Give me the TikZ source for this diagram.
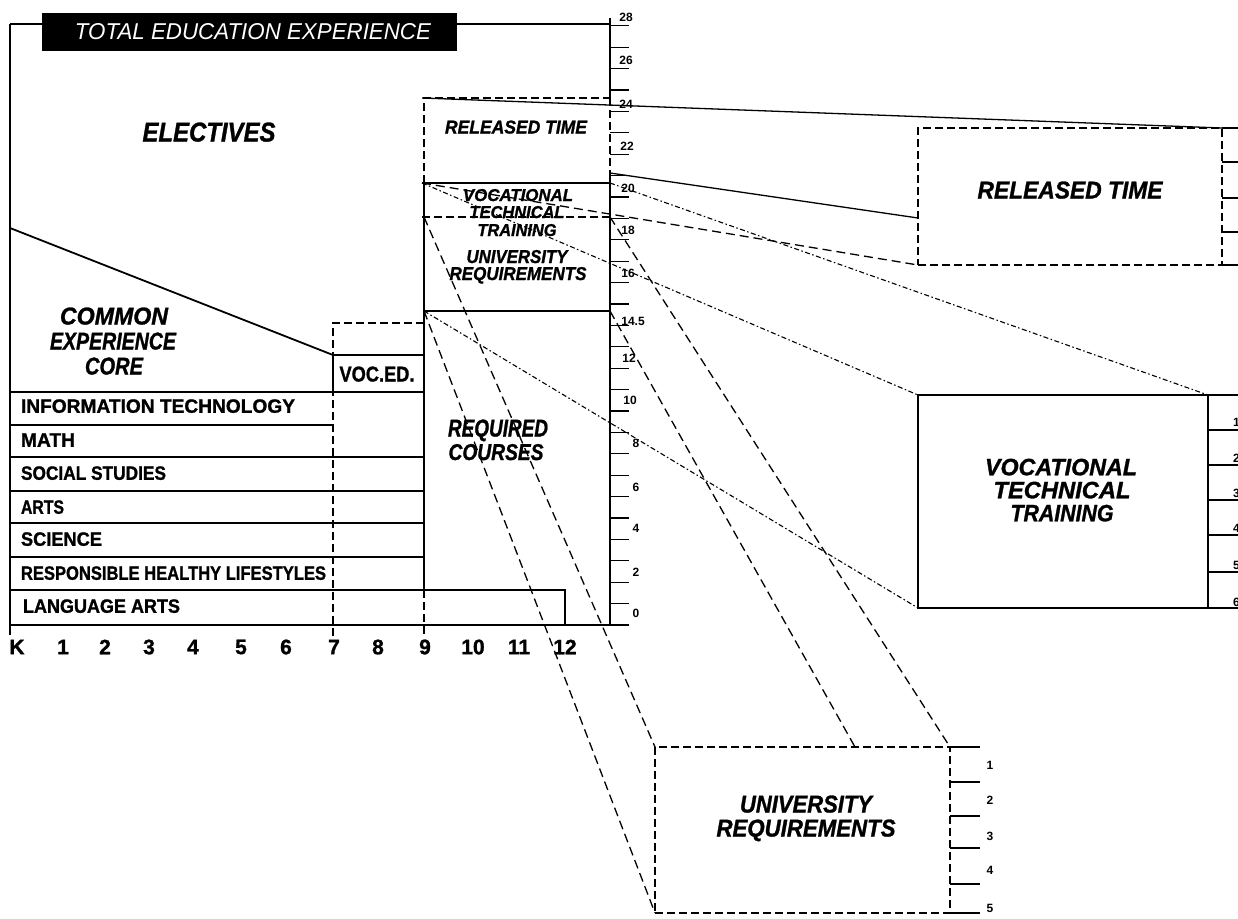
\documentclass[tikz,border=0pt]{standalone}
\usepackage{fontspec}
\setmainfont{Liberation Sans}
\newfontfamily\heavy[FakeBold=1.2]{Liberation Sans}
\usepackage{graphicx}
\newcommand\Tx[7]{\node[lbl] (#1) at (#2,{#3+#5/2}) {\resizebox{#4pt}{#5pt}{#6#7}};}
\begin{document}
\begin{tikzpicture}[x=1pt,y=-1pt,
  lbl/.style={anchor=base,inner sep=0pt,outer sep=0pt},
  frame/.style={line width=1.8pt},
  thinframe/.style={line width=1.3pt},
  axis/.style={line width=2.6pt},
  tick/.style={line width=1.3pt},
  boxdash/.style={line width=1.8pt,dash pattern=on 8pt off 4pt},
  projL/.style={line width=1.3pt,dash pattern=on 9pt off 5pt},
  projF/.style={line width=1.1pt,dash pattern=on 5pt off 2.5pt on 1.5pt off 2.5pt},
  projS/.style={line width=1.3pt},
  axl/.style={inner sep=0pt,font=\fontsize{12}{12}\selectfont\bfseries},
  grade/.style={inner sep=0pt,font=\fontsize{21}{21}\selectfont\heavy\bfseries},
  xbox/.style={inner sep=0pt,outer sep=0pt,anchor=north west}]
\useasboundingbox (0,0) rectangle (1238,918);
\fill[white] (0,0) rectangle (1238,918);

% main frame
\draw[frame] (10,24) -- (610,24);
\draw[frame] (10,24) -- (10,635);
\draw[frame] (10,625) -- (610,625);
% title
\node[xbox,fill=black,minimum width=415pt,minimum height=38pt] (titlebox) at (42,13) {};
\Tx{title}{253}{31}{356}{16}{\color{white}\itshape}{TOTAL EDUCATION EXPERIENCE}

% right axis
\draw[axis] (610,18) -- (610,98);
\draw[axis,dash pattern=on 8pt off 4pt] (610,98) -- (610,176);
\draw[axis] (610,176) -- (610,626);
\foreach \k in {0,...,28} \draw[tick] (610,{625-21.4*\k}) -- (629,{625-21.4*\k});
\foreach \v/\yy/\xx [count=\i] in {28/17/626,26/60/626,24/104/626,22/146/627,20/188/628,18/230/628,16/273/628,14.5/321/633,12/358/629,10/400/630,8/443/636,6/487/636,4/528/636,2/572/636,0/613/636}
  \node[axl] (ax\i) at (\xx,\yy) {\v};

% electives / common core divider
\draw[frame] (10,228) -- (333,355);
\Tx{elect}{209}{132}{133}{19}{\heavy\bfseries\itshape}{ELECTIVES}
\Tx{com1}{114}{316}{108}{17}{\heavy\bfseries\itshape}{COMMON}
\Tx{com2}{113}{341}{126}{17}{\heavy\bfseries\itshape}{EXPERIENCE}
\Tx{com3}{114}{366}{58}{17}{\heavy\bfseries\itshape}{CORE}

% grade 7 dashed and voc ed
\draw[boxdash] (333,636) -- (333,323) -- (424,323);
\draw[frame] (333,355) rectangle (424,392);
\Tx{voced}{377}{374}{75}{15}{\heavy\bfseries}{VOC.ED.}

% rows
\draw[frame] (10,392) -- (333,392);
\draw[frame] (10,425) -- (333,425);
\draw[frame] (10,457) -- (424,457);
\draw[frame] (10,491) -- (424,491);
\draw[frame] (10,523) -- (424,523);
\draw[frame] (10,557) -- (424,557);
\draw[thinframe] (10,590) -- (565,590) -- (565,625);
\Tx{it}{158}{406}{274}{13.5}{\heavy\bfseries}{INFORMATION TECHNOLOGY}
\Tx{math}{48}{440}{54}{13.5}{\heavy\bfseries}{MATH}
\Tx{ss}{93.5}{473}{145}{13.5}{\heavy\bfseries}{SOCIAL STUDIES}
\Tx{arts}{42.5}{507}{43}{13.5}{\heavy\bfseries}{ARTS}
\Tx{sci}{61.5}{539}{81}{13.5}{\heavy\bfseries}{SCIENCE}
\Tx{rhl}{173.5}{573}{305}{13.5}{\heavy\bfseries}{RESPONSIBLE HEALTHY LIFESTYLES}
\Tx{la}{101.5}{606}{157}{13.5}{\heavy\bfseries}{LANGUAGE ARTS}

% high school stack
\draw[frame] (424,183) -- (424,590);
\draw[boxdash] (424,590) -- (424,636);
\draw[axis] (424,311) -- (610,311);
\draw[thinframe] (422,183) -- (610,183);
\draw[boxdash,line width=1.5pt] (422,217) -- (610,217);
\draw[boxdash] (424,183) -- (424,98) -- (610,98);
\Tx{rts}{516}{127}{142}{13}{\heavy\bfseries\itshape}{RELEASED TIME}
\Tx{vts1}{518}{195}{110}{12}{\heavy\bfseries\itshape}{VOCATIONAL}
\Tx{vts2}{517}{212}{95}{12}{\heavy\bfseries\itshape}{TECHNICAL}
\Tx{vts3}{517}{230}{79}{12}{\heavy\bfseries\itshape}{TRAINING}
\Tx{urs1}{517}{256.5}{101}{13}{\heavy\bfseries\itshape}{UNIVERSITY}
\Tx{urs2}{518}{273.5}{137}{13}{\heavy\bfseries\itshape}{REQUIREMENTS}
\Tx{req1}{498}{428}{100}{17}{\heavy\bfseries\itshape}{REQUIRED}
\Tx{req2}{496}{452}{95}{16}{\heavy\bfseries\itshape}{COURSES}

% grade labels
\foreach \g/\xx [count=\i] in {K/17,1/63,2/105,3/149,4/193,5/241,6/286,7/334,8/378,9/425,10/473,11/519,12/565}
  \node[grade] (g\i) at (\xx,647) {\g};

% exploded boxes
\node[xbox,draw,boxdash,minimum width=304pt,minimum height=137pt] (xRT) at (918,128) {};
\node[xbox,draw,frame,minimum width=290pt,minimum height=213pt] (xVT) at (918,395) {};
\node[xbox,draw,boxdash,minimum width=295pt,minimum height=166pt] (xUR) at (655,747) {};
\Tx{xrt}{1070}{190}{185}{17}{\heavy\bfseries\itshape}{RELEASED TIME}
\Tx{xvt1}{1061}{467}{152}{16.5}{\heavy\bfseries\itshape}{VOCATIONAL}
\Tx{xvt2}{1062}{490}{137}{16.5}{\heavy\bfseries\itshape}{TECHNICAL}
\Tx{xvt3}{1062}{513}{103}{16.5}{\heavy\bfseries\itshape}{TRAINING}
\Tx{xur1}{806}{804}{132}{17}{\heavy\bfseries\itshape}{UNIVERSITY}
\Tx{xur2}{806}{828}{179}{17}{\heavy\bfseries\itshape}{REQUIREMENTS}

% exploded box scales
\foreach \yy in {128,162,198,232,265} \draw[tick] (1222,\yy) -- (1240,\yy);
\foreach \yy in {395,430,465,500,535,572,608} \draw[tick] (1208,\yy) -- (1240,\yy);
\foreach \v/\yy [count=\i] in {1/422,2/458,3/493,4/528,5/565,6/602}
  \node[axl,anchor=west] (vs\i) at (1233,\yy) {\v};
\foreach \yy in {747,782,816,848,884,913} \draw[tick] (950,\yy) -- (980,\yy);
\foreach \v/\yy [count=\i] in {1/765,2/800,3/836,4/870,5/908}
  \node[axl] (us\i) at (990,\yy) {\v};

% projection connectors
\coordinate (rtTL) at (422,98);
\coordinate (rtSide) at (610,173);
\coordinate (rtL) at (918,218);
\coordinate (vtTL) at (422,183);
\coordinate (vtTR) at (610,183);
\coordinate (urTL) at (424,217);
\coordinate (urTR) at (610,217);
\coordinate (rcTL) at (424,311);
\coordinate (rcTR) at (610,311);
\coordinate (urMid) at (855,747);
\draw[projS] (rtTL) -- (xRT.north east);
\draw[projS] (rtSide) -- (rtL);
\draw[projL] (vtTL) -- (xRT.south west);
\draw[projF] (vtTR) -- (xVT.north east);
\draw[projF] (vtTL) -- (xVT.north west);
\draw[projF] (rcTL) -- (xVT.south west);
\draw[projL] (urTL) -- (xUR.north west);
\draw[projL] (urTR) -- (xUR.north east);
\draw[projL] (rcTL) -- (xUR.south west);
\draw[projL] (rcTR) -- (urMid);
\end{tikzpicture}
\end{document}
